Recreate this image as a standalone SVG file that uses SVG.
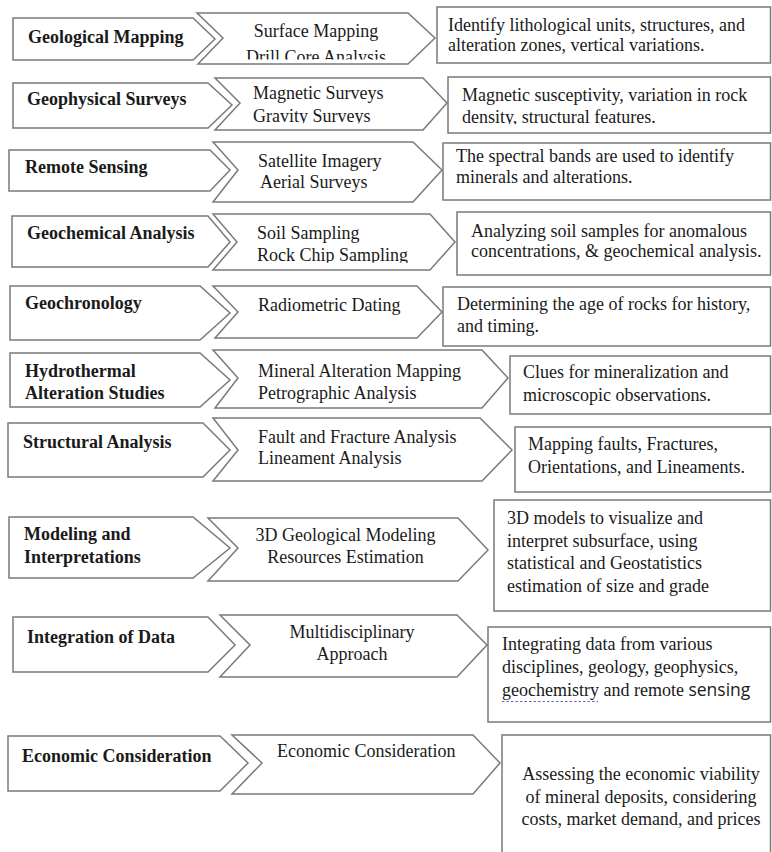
<svg xmlns="http://www.w3.org/2000/svg" width="772" height="852" viewBox="0 0 772 852">
<style>
.s{fill:#fff;stroke:#7a7a7a;stroke-width:1.5;stroke-linejoin:miter}
.b{font-family:"Liberation Serif","Times New Roman",serif;font-size:18px;font-weight:bold;fill:#1a1a1a}
.t{font-family:"Liberation Serif","Times New Roman",serif;font-size:18px;fill:#1a1a1a}
.c{text-anchor:middle}
.sans{font-family:"Open Sans","Liberation Sans",sans-serif;font-size:17.5px}
</style>
<defs>
<clipPath id="k1"><rect x="200" y="0" width="220" height="59.5"/></clipPath>
<clipPath id="k2"><rect x="215" y="80" width="220" height="43.6"/></clipPath>
<clipPath id="k3"><rect x="450" y="80" width="320" height="44.3"/></clipPath>
<clipPath id="k4"><rect x="215" y="215" width="220" height="47.8"/></clipPath>
</defs>
<rect width="772" height="852" fill="#fff"/>

<g id="row1">
<g id="n1a"><polygon class="s" points="13,18 193,18 215,39 193,60 13,60"/><text class="b" x="28" y="43">Geological Mapping</text></g>
<g id="n1b"><polygon class="s" points="197,13 408,13 435,38 408,64 198,64 223,38"/>
<text class="t c" x="316" y="37">Surface Mapping</text>
<text class="t c" x="316" y="63" clip-path="url(#k1)">Drill Core Analysis</text></g>
<g id="n1c"><rect class="s" x="437" y="7" width="333.5" height="56"/>
<text class="t" x="448" y="31">Identify lithological units, structures, and</text>
<text class="t" x="448" y="50.5">alteration zones, vertical variations.</text></g>
</g>

<g id="row2">
<g id="n2a"><polygon class="s" points="13,83 208,83 232,105 208,128 13,128"/><text class="b" x="27" y="105">Geophysical Surveys</text></g>
<g id="n2b"><polygon class="s" points="215,78 423,78 447,103 423,130 215,130 240,103"/>
<text class="t" x="253" y="99">Magnetic Surveys</text>
<text class="t" x="253" y="122" clip-path="url(#k2)">Gravity Surveys</text></g>
<g id="n2c"><rect class="s" x="448" y="77" width="322.5" height="56"/>
<text class="t" x="462" y="101">Magnetic susceptivity, variation in rock</text>
<text class="t" x="462" y="122.7" clip-path="url(#k3)">density, structural features.</text></g>
</g>

<g id="row3">
<g id="n3a"><polygon class="s" points="9,150 210,150 230,170 210,191 9,191"/><text class="b" x="25" y="173">Remote Sensing</text></g>
<g id="n3b"><polygon class="s" points="213,142 413,142 442,170 413,202 213,202 238,170"/>
<text class="t" x="258" y="166.7">Satellite Imagery</text>
<text class="t" x="260" y="188.3">Aerial Surveys</text></g>
<g id="n3c"><rect class="s" x="443" y="143" width="327.5" height="57"/>
<text class="t" x="456" y="161.7">The spectral bands are used to identify</text>
<text class="t" x="456" y="183">minerals and alterations.</text></g>
</g>

<g id="row4">
<g id="n4a"><polygon class="s" points="12,216 208,216 230,242 208,267 12,267"/><text class="b" x="27" y="239">Geochemical Analysis</text></g>
<g id="n4b"><polygon class="s" points="213,214 430,214 455,242 430,270 213,270 237,242"/>
<text class="t" x="257" y="239">Soil Sampling</text>
<text class="t" x="257" y="261" clip-path="url(#k4)">Rock Chip Sampling</text></g>
<g id="n4c"><rect class="s" x="457" y="212" width="313.5" height="63"/>
<text class="t" x="471" y="236.7">Analyzing soil samples for anomalous</text>
<text class="t" x="471" y="256.7">concentrations, &amp; geochemical analysis.</text></g>
</g>

<g id="row5">
<g id="n5a"><polygon class="s" points="10,286 200,286 230,313 200,340 10,340"/><text class="b" x="25" y="309">Geochronology</text></g>
<g id="n5b"><polygon class="s" points="213,286 417,286 442,312 417,338 215,338 238,312"/>
<text class="t" x="258" y="310.7">Radiometric Dating</text></g>
<g id="n5c"><rect class="s" x="443" y="287" width="327.5" height="59"/>
<text class="t" x="457" y="310">Determining the age of rocks for history,</text>
<text class="t" x="457" y="331.7">and timing.</text></g>
</g>

<g id="row6">
<g id="n6a"><polygon class="s" points="10,353 200,353 230,380 200,407 10,407"/>
<text class="b" x="25" y="377">Hydrothermal</text><text class="b" x="25" y="399">Alteration Studies</text></g>
<g id="n6b"><polygon class="s" points="213,350 482,350 508,378 482,408 215,408 238,378"/>
<text class="t" x="258" y="377">Mineral Alteration Mapping</text>
<text class="t" x="258" y="398.5">Petrographic Analysis</text></g>
<g id="n6c"><rect class="s" x="510" y="356" width="260.5" height="58"/>
<text class="t" x="523" y="378">Clues for mineralization and</text>
<text class="t" x="523" y="400.7">microscopic observations.</text></g>
</g>

<g id="row7">
<g id="n7a"><polygon class="s" points="8,423 203,423 230,450 203,477 8,477"/><text class="b" x="23" y="448">Structural Analysis</text></g>
<g id="n7b"><polygon class="s" points="213,418 480,418 512,450 482,481 213,481 238,450"/>
<text class="t" x="258" y="442.7">Fault and Fracture Analysis</text>
<text class="t" x="258" y="464">Lineament Analysis</text></g>
<g id="n7c"><rect class="s" x="515" y="427" width="255.5" height="65"/>
<text class="t" x="528" y="450">Mapping faults, Fractures,</text>
<text class="t" x="528" y="473">Orientations, and Lineaments.</text></g>
</g>

<g id="row8">
<g id="n8a"><polygon class="s" points="9,517 193,517 230,548 193,578 9,578"/>
<text class="b" x="24" y="540">Modeling and</text><text class="b" x="24" y="563">Interpretations</text></g>
<g id="n8b"><polygon class="s" points="208,518 458,518 488,550 458,581 208,581 238,548"/>
<text class="t c" x="345.5" y="541">3D Geological Modeling</text>
<text class="t c" x="345.5" y="563.3">Resources Estimation</text></g>
<g id="n8c"><rect class="s" x="494" y="500" width="276.5" height="111"/>
<text class="t" x="507" y="524">3D models to visualize and</text>
<text class="t" x="507" y="546.5">interpret subsurface, using</text>
<text class="t" x="507" y="569">statistical and Geostatistics</text>
<text class="t" x="507" y="591.5">estimation of size and grade</text></g>
</g>

<g id="row9">
<g id="n9a"><polygon class="s" points="13,617 208,617 235,645 208,672 13,672"/><text class="b" x="27" y="643">Integration of Data</text></g>
<g id="n9b"><polygon class="s" points="220,615 457,615 487,645 457,677 220,677 250,645"/>
<text class="t c" x="352" y="638">Multidisciplinary</text>
<text class="t c" x="352" y="660">Approach</text></g>
<g id="n9c"><rect class="s" x="488" y="627" width="282.5" height="95"/>
<text class="t" x="502" y="650">Integrating data from various</text>
<text class="t" x="502" y="673">disciplines, geology, geophysics,</text>
<text class="t" x="502" y="696">geochemistry and remote <tspan class="sans">sensing</tspan></text>
<line x1="502" y1="701.5" x2="598" y2="701.5" stroke="#6f5fd8" stroke-width="1.2" stroke-dasharray="2.5 2"/></g>
</g>

<g id="row10">
<g id="n10a"><polygon class="s" points="8,736 220,736 248,763 220,791 8,791"/><text class="b" x="22" y="762">Economic Consideration</text></g>
<g id="n10b"><polygon class="s" points="232,735 473,735 500,763 473,794 232,794 262,763"/>
<text class="t" x="277" y="757">Economic Consideration</text></g>
<g id="n10c"><rect class="s" x="502" y="735" width="268.5" height="130"/>
<text class="t c" x="641" y="780">Assessing the economic viability</text>
<text class="t c" x="641" y="802.7">of mineral deposits, considering</text>
<text class="t c" x="641" y="825">costs, market demand, and prices</text></g>
</g>
</svg>
